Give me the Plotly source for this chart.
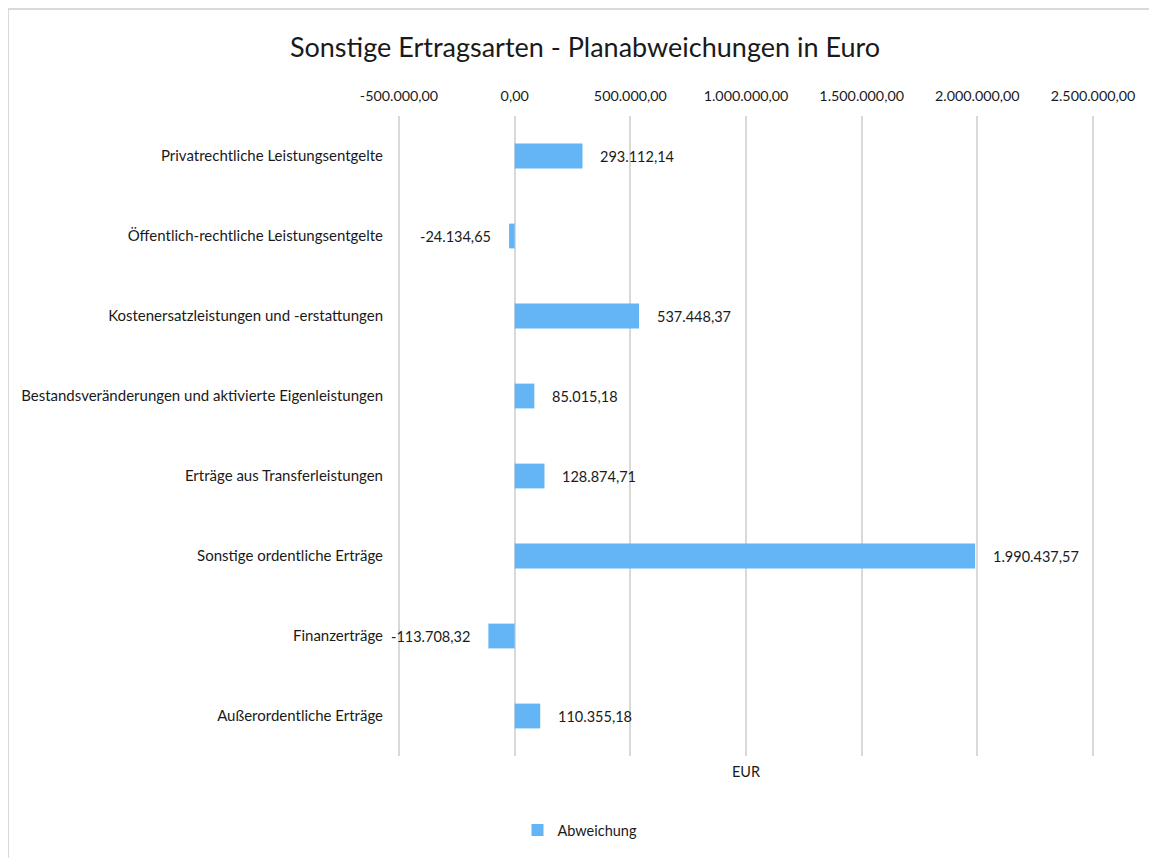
import plotly.graph_objects as go

categories = [
    "Privatrechtliche Leistungsentgelte",
    "Öffentlich-rechtliche Leistungsentgelte",
    "Kostenersatzleistungen und -erstattungen",
    "Bestandsveränderungen und aktivierte Eigenleistungen",
    "Erträge aus Transferleistungen",
    "Sonstige ordentliche Erträge",
    "Finanzerträge",
    "Außerordentliche Erträge",
]
abweichung = [293112.14, -24134.65, 537448.37, 85015.18, 128874.71, 1990437.57, -113708.32, 110355.18]
tick_values = [-500000, 0, 500000, 1000000, 1500000, 2000000, 2500000]
tick_labels = ["-500.000,00", "0,00", "500.000,00", "1.000.000,00", "1.500.000,00", "2.000.000,00", "2.500.000,00"]


def de_fmt(v):
    s = f"{v:,.2f}"
    return s.replace(",", "X").replace(".", ",").replace("X", ".")


FONT = "Lato, 'Open Sans', sans-serif"
TXT = "#1a1a1a"
GRID = "#D9D9D9"
W, H = 1149, 850
L, R, T, B = 391, 64, 108, 102
pw, ph = W - L - R, H - T - B

fig = go.Figure()
fig.add_trace(go.Bar(
    y=categories, x=abweichung, orientation="h", name="Abweichung",
    marker=dict(color="#64B5F6", line=dict(width=0)), width=0.31,
))

for c, v in zip(categories, abweichung):
    fig.add_annotation(
        x=v, y=c, xref="x", yref="y", text=de_fmt(v), showarrow=False,
        xanchor="left" if v >= 0 else "right", xshift=16 if v >= 0 else -16,
        font=dict(family=FONT, size=14.5, color=TXT),
    )

fig.add_annotation(
    x=0.5, y=-15 / ph, xref="paper", yref="paper", text="EUR", showarrow=False,
    xanchor="center", yanchor="middle", font=dict(family=FONT, size=14.5, color=TXT),
)

# gridlines at the two range edges (plotly omits them)
for px_ in (0, 1):
    fig.add_shape(
        type="line", xref="paper", yref="paper", x0=px_, x1=px_, y0=0, y1=1,
        line=dict(color=GRID, width=2), layer="below",
    )

# outer chart border
fig.add_shape(
    type="rect", xref="paper", yref="paper",
    x0=(0 - L) / pw, x1=(W + 20 - L) / pw,
    y0=-(B + 20) / ph, y1=1 + (T - 1) / ph,
    line=dict(color=GRID, width=2), fillcolor="rgba(0,0,0,0)", layer="below",
)

fig.update_layout(
    width=W, height=H,
    margin=dict(l=L, r=R, t=T, b=B),
    paper_bgcolor="white", plot_bgcolor="white",
    font=dict(family=FONT, size=14.5, color=TXT),
    title=dict(
        text="Sonstige Ertragsarten - Planabweichungen in Euro",
        x=577 / W, xanchor="center", y=1 - 40 / H, yanchor="middle",
        font=dict(family=FONT, size=27, color=TXT),
    ),
    xaxis=dict(
        side="top", range=[-500000, 2500000], tickvals=tick_values, ticktext=tick_labels,
        showgrid=True, gridcolor=GRID, gridwidth=2,
        zeroline=True, zerolinecolor=GRID, zerolinewidth=2,
        showline=False, ticks="outside", ticklen=8, tickcolor="rgba(0,0,0,0)",
        tickfont=dict(family=FONT, size=14.3, color=TXT), fixedrange=True,
    ),
    yaxis=dict(
        autorange="reversed", showgrid=False, zeroline=False, showline=False,
        ticks="outside", ticklen=12, tickcolor="rgba(0,0,0,0)",
        tickfont=dict(family=FONT, size=15, color=TXT),
    ),
    showlegend=True,
    legend=dict(
        orientation="h", x=(572 - L) / pw, xanchor="center", y=-(830 - 8 - (T + ph)) / ph,
        yanchor="middle", font=dict(family=FONT, size=14.5, color=TXT),
        itemwidth=30,
    ),
    bargap=0.69,
)

fig.write_html("out.html")
